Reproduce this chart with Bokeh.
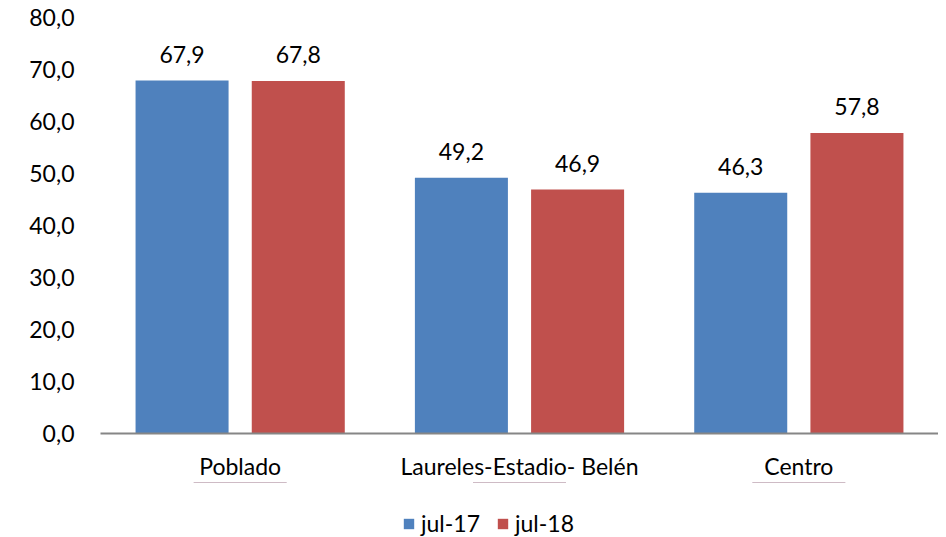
from bokeh.plotting import figure
from bokeh.layouts import column
from bokeh.models import FactorRange, ColumnDataSource, LabelSet, Legend, LegendItem, Range1d, FixedTicker
from bokeh.core.properties import value
from bokeh.transform import dodge
from bokeh.embed import file_html
from bokeh.resources import INLINE

categories = ["Poblado", "Laureles-Estadio- Belén", "Centro"]
series_names = ["jul-17", "jul-18"]
jul17 = [67.9, 49.2, 46.3]
jul18 = [67.8, 46.9, 57.8]
y_ticks = [0, 10, 20, 30, 40, 50, 60, 70, 80]
y_tick_labels = ["0,0", "10,0", "20,0", "30,0", "40,0", "50,0", "60,0", "70,0", "80,0"]

FONT = "Lato"
FS = "23px"
BLUE = "#4F81BD"
RED = "#C0504D"

src = ColumnDataSource(dict(
    cat=categories,
    a=jul17,
    b=jul18,
    a_lbl=[f"{v:.1f}".replace(".", ",") for v in jul17],
    b_lbl=[f"{v:.1f}".replace(".", ",") for v in jul18],
))

p = figure(x_range=FactorRange(*categories), y_range=Range1d(0, 80),
           width=938, height=482, output_backend="svg", toolbar_location=None,
           min_border_left=100, min_border_right=0, min_border_top=17, min_border_bottom=49)
p.outline_line_color = None
p.xgrid.grid_line_color = None
p.ygrid.grid_line_color = None

off = 0.208
w = 0.333
r1 = p.vbar(x=dodge("cat", -off, range=p.x_range), top="a", width=w, source=src,
            fill_color=BLUE, line_color=None)
r2 = p.vbar(x=dodge("cat", off, range=p.x_range), top="b", width=w, source=src,
            fill_color=RED, line_color=None)

for ycol, lcol, o in [("a", "a_lbl", -off), ("b", "b_lbl", off)]:
    ls = LabelSet(x=dodge("cat", o, range=p.x_range), y=ycol, text=lcol, source=src,
                  text_align="center", text_baseline="middle", y_offset=26,
                  text_font=value(FONT), text_font_size=value(FS), text_color="#000000")
    p.add_layout(ls)

p.yaxis.ticker = FixedTicker(ticks=y_ticks)
p.yaxis.major_label_overrides = {t: l for t, l in zip(y_ticks, y_tick_labels)}
p.yaxis.axis_line_color = None
p.yaxis.major_tick_line_color = None
p.yaxis.minor_tick_line_color = None
p.yaxis.major_label_text_font = FONT
p.yaxis.major_label_text_font_size = FS
p.yaxis.major_label_text_color = "#000000"
p.yaxis.major_label_standoff = 20

p.xaxis.axis_line_color = "#868686"
p.xaxis.axis_line_width = 2
p.xaxis.major_tick_line_color = None
p.xaxis.minor_tick_line_color = None
p.xaxis.major_label_text_font = FONT
p.xaxis.major_label_text_font_size = FS
p.xaxis.major_label_text_color = "#000000"
p.xaxis.major_label_standoff = 12

# legend strip below the chart (its bars lie outside its visible range)
lf = figure(x_range=FactorRange(*categories), y_range=Range1d(-2, -1),
            width=938, height=55, output_backend="svg", toolbar_location=None,
            x_axis_type=None, y_axis_type=None, min_border=0)
lf.outline_line_color = None
lf.xgrid.grid_line_color = None
lf.ygrid.grid_line_color = None
lr1 = lf.vbar(x="cat", top="a", width=w, source=src, fill_color=BLUE, line_color=None)
lr2 = lf.vbar(x="cat", top="b", width=w, source=src, fill_color=RED, line_color=None)

legend = Legend(items=[LegendItem(label=series_names[0], renderers=[lr1]),
                       LegendItem(label=series_names[1], renderers=[lr2])],
                orientation="horizontal", location=(302, 0),
                label_text_font=FONT, label_text_font_size=FS, label_text_color="#000000",
                glyph_width=13, glyph_height=13, label_standoff=6, spacing=16,
                border_line_color=None, background_fill_alpha=0, margin=0, padding=0)
lf.add_layout(legend, "center")

layout = column(p, lf, spacing=0)
open("out.html", "w").write(file_html(layout, INLINE))
